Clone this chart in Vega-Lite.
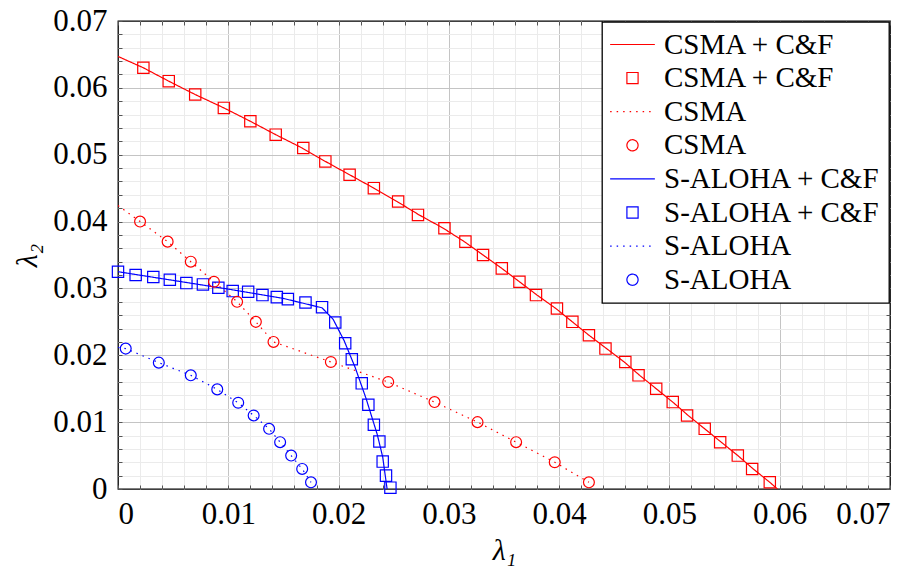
{
  "$schema": "https://vega.github.io/schema/vega-lite/v6.json",
  "width": 772,
  "height": 468,
  "autosize": {"type": "none"},
  "padding": {"left": 118, "top": 21, "right": 31, "bottom": 81},
  "background": "white",
  "config": {
    "font": "Liberation Serif",
    "view": {"stroke": "black", "strokeWidth": 1.3},
    "axis": {
      "labelFont": "Liberation Serif",
      "labelFontSize": 31,
      "labelColor": "black",
      "titleFont": "Liberation Serif",
      "titleFontSize": 30,
      "titleFontWeight": "normal",
      "titleFontStyle": "italic",
      "titleColor": "black",
      "domain": false
    },
    "legend": {
      "orient": "top-right",
      "offset": 1,
      "padding": 8,
      "strokeColor": "black",
      "strokeWidth": 1.3,
      "fillColor": "white",
      "labelFont": "Liberation Serif",
      "labelFontSize": 29,
      "labelColor": "black",
      "labelOffset": 17,
      "symbolOffset": 8,
      "symbolSize": 125,
      "rowPadding": 3.6,
      "symbolStrokeWidth": 1.2,
      "labelLimit": 400
    }
  },
  "datasets": {
    "lines": [
      {"s": "CSMA + C&F|l", "x": 0, "y": 0.0647},
      {"s": "CSMA + C&F|l", "x": 0.0023, "y": 0.063},
      {"s": "CSMA + C&F|l", "x": 0.0046, "y": 0.061},
      {"s": "CSMA + C&F|l", "x": 0.0070, "y": 0.059},
      {"s": "CSMA + C&F|l", "x": 0.0096, "y": 0.057},
      {"s": "CSMA + C&F|l", "x": 0.0120, "y": 0.055},
      {"s": "CSMA + C&F|l", "x": 0.0143, "y": 0.053},
      {"s": "CSMA + C&F|l", "x": 0.0167, "y": 0.051},
      {"s": "CSMA + C&F|l", "x": 0.0188, "y": 0.049},
      {"s": "CSMA + C&F|l", "x": 0.0210, "y": 0.047},
      {"s": "CSMA + C&F|l", "x": 0.0232, "y": 0.045},
      {"s": "CSMA + C&F|l", "x": 0.0253, "y": 0.043},
      {"s": "CSMA + C&F|l", "x": 0.0273, "y": 0.041},
      {"s": "CSMA + C&F|l", "x": 0.0295, "y": 0.039},
      {"s": "CSMA + C&F|l", "x": 0.0314, "y": 0.037},
      {"s": "CSMA + C&F|l", "x": 0.0331, "y": 0.035},
      {"s": "CSMA + C&F|l", "x": 0.0348, "y": 0.033},
      {"s": "CSMA + C&F|l", "x": 0.0364, "y": 0.031},
      {"s": "CSMA + C&F|l", "x": 0.0380, "y": 0.029},
      {"s": "CSMA + C&F|l", "x": 0.0397, "y": 0.027},
      {"s": "CSMA + C&F|l", "x": 0.0412, "y": 0.025},
      {"s": "CSMA + C&F|l", "x": 0.0427, "y": 0.023},
      {"s": "CSMA + C&F|l", "x": 0.0443, "y": 0.021},
      {"s": "CSMA + C&F|l", "x": 0.0459, "y": 0.019},
      {"s": "CSMA + C&F|l", "x": 0.0473, "y": 0.017},
      {"s": "CSMA + C&F|l", "x": 0.0488, "y": 0.015},
      {"s": "CSMA + C&F|l", "x": 0.0503, "y": 0.013},
      {"s": "CSMA + C&F|l", "x": 0.0517, "y": 0.011},
      {"s": "CSMA + C&F|l", "x": 0.0532, "y": 0.009},
      {"s": "CSMA + C&F|l", "x": 0.0547, "y": 0.007},
      {"s": "CSMA + C&F|l", "x": 0.0562, "y": 0.005},
      {"s": "CSMA + C&F|l", "x": 0.0576, "y": 0.003},
      {"s": "CSMA + C&F|l", "x": 0.0591, "y": 0.001},
      {"s": "CSMA + C&F|l", "x": 0.0598, "y": 0},
      {"s": "CSMA|l", "x": 0, "y": 0.0424},
      {"s": "CSMA|l", "x": 0.0020, "y": 0.040},
      {"s": "CSMA|l", "x": 0.0045, "y": 0.037},
      {"s": "CSMA|l", "x": 0.0066, "y": 0.034},
      {"s": "CSMA|l", "x": 0.0087, "y": 0.031},
      {"s": "CSMA|l", "x": 0.0108, "y": 0.028},
      {"s": "CSMA|l", "x": 0.0125, "y": 0.025},
      {"s": "CSMA|l", "x": 0.0141, "y": 0.022},
      {"s": "CSMA|l", "x": 0.0193, "y": 0.019},
      {"s": "CSMA|l", "x": 0.0245, "y": 0.016},
      {"s": "CSMA|l", "x": 0.0287, "y": 0.013},
      {"s": "CSMA|l", "x": 0.0326, "y": 0.010},
      {"s": "CSMA|l", "x": 0.0361, "y": 0.007},
      {"s": "CSMA|l", "x": 0.0396, "y": 0.004},
      {"s": "CSMA|l", "x": 0.0427, "y": 0.001},
      {"s": "S-ALOHA + C&F|l", "x": 0, "y": 0.0325},
      {"s": "S-ALOHA + C&F|l", "x": 0.005, "y": 0.0312},
      {"s": "S-ALOHA + C&F|l", "x": 0.010, "y": 0.0299},
      {"s": "S-ALOHA + C&F|l", "x": 0.015, "y": 0.0285},
      {"s": "S-ALOHA + C&F|l", "x": 0.0185, "y": 0.0271},
      {"s": "S-ALOHA + C&F|l", "x": 0.0195, "y": 0.0254},
      {"s": "S-ALOHA + C&F|l", "x": 0.0205, "y": 0.0222},
      {"s": "S-ALOHA + C&F|l", "x": 0.0215, "y": 0.0182},
      {"s": "S-ALOHA + C&F|l", "x": 0.0225, "y": 0.0135},
      {"s": "S-ALOHA + C&F|l", "x": 0.0235, "y": 0.0082},
      {"s": "S-ALOHA + C&F|l", "x": 0.0240, "y": 0.0048},
      {"s": "S-ALOHA + C&F|l", "x": 0.0244, "y": 0},
      {"s": "S-ALOHA|l", "x": 0, "y": 0.0212},
      {"s": "S-ALOHA|l", "x": 0.0007, "y": 0.0210},
      {"s": "S-ALOHA|l", "x": 0.0037, "y": 0.0189},
      {"s": "S-ALOHA|l", "x": 0.0066, "y": 0.0170},
      {"s": "S-ALOHA|l", "x": 0.0090, "y": 0.0149},
      {"s": "S-ALOHA|l", "x": 0.0109, "y": 0.0129},
      {"s": "S-ALOHA|l", "x": 0.0123, "y": 0.0110},
      {"s": "S-ALOHA|l", "x": 0.0137, "y": 0.0090},
      {"s": "S-ALOHA|l", "x": 0.0147, "y": 0.0070},
      {"s": "S-ALOHA|l", "x": 0.0157, "y": 0.0050},
      {"s": "S-ALOHA|l", "x": 0.0167, "y": 0.0030},
      {"s": "S-ALOHA|l", "x": 0.0175, "y": 0.0010}
    ],
    "squares": [
      {"s": "CSMA + C&F|m", "x": 0.0023, "y": 0.063},
      {"s": "CSMA + C&F|m", "x": 0.0046, "y": 0.061},
      {"s": "CSMA + C&F|m", "x": 0.0070, "y": 0.059},
      {"s": "CSMA + C&F|m", "x": 0.0096, "y": 0.057},
      {"s": "CSMA + C&F|m", "x": 0.0120, "y": 0.055},
      {"s": "CSMA + C&F|m", "x": 0.0143, "y": 0.053},
      {"s": "CSMA + C&F|m", "x": 0.0168, "y": 0.051},
      {"s": "CSMA + C&F|m", "x": 0.0188, "y": 0.049},
      {"s": "CSMA + C&F|m", "x": 0.0210, "y": 0.047},
      {"s": "CSMA + C&F|m", "x": 0.0232, "y": 0.045},
      {"s": "CSMA + C&F|m", "x": 0.0254, "y": 0.043},
      {"s": "CSMA + C&F|m", "x": 0.0272, "y": 0.041},
      {"s": "CSMA + C&F|m", "x": 0.0296, "y": 0.039},
      {"s": "CSMA + C&F|m", "x": 0.0315, "y": 0.037},
      {"s": "CSMA + C&F|m", "x": 0.0331, "y": 0.035},
      {"s": "CSMA + C&F|m", "x": 0.0348, "y": 0.033},
      {"s": "CSMA + C&F|m", "x": 0.0364, "y": 0.031},
      {"s": "CSMA + C&F|m", "x": 0.0379, "y": 0.029},
      {"s": "CSMA + C&F|m", "x": 0.0398, "y": 0.027},
      {"s": "CSMA + C&F|m", "x": 0.0412, "y": 0.025},
      {"s": "CSMA + C&F|m", "x": 0.0427, "y": 0.023},
      {"s": "CSMA + C&F|m", "x": 0.0442, "y": 0.021},
      {"s": "CSMA + C&F|m", "x": 0.0460, "y": 0.019},
      {"s": "CSMA + C&F|m", "x": 0.0472, "y": 0.017},
      {"s": "CSMA + C&F|m", "x": 0.0488, "y": 0.015},
      {"s": "CSMA + C&F|m", "x": 0.0503, "y": 0.013},
      {"s": "CSMA + C&F|m", "x": 0.0516, "y": 0.011},
      {"s": "CSMA + C&F|m", "x": 0.0532, "y": 0.009},
      {"s": "CSMA + C&F|m", "x": 0.0546, "y": 0.007},
      {"s": "CSMA + C&F|m", "x": 0.0562, "y": 0.005},
      {"s": "CSMA + C&F|m", "x": 0.0575, "y": 0.003},
      {"s": "CSMA + C&F|m", "x": 0.0591, "y": 0.001},
      {"s": "S-ALOHA + C&F|m", "x": 0.0000, "y": 0.0325},
      {"s": "S-ALOHA + C&F|m", "x": 0.0016, "y": 0.0320},
      {"s": "S-ALOHA + C&F|m", "x": 0.0032, "y": 0.0317},
      {"s": "S-ALOHA + C&F|m", "x": 0.0047, "y": 0.0313},
      {"s": "S-ALOHA + C&F|m", "x": 0.0062, "y": 0.0308},
      {"s": "S-ALOHA + C&F|m", "x": 0.0077, "y": 0.0306},
      {"s": "S-ALOHA + C&F|m", "x": 0.0091, "y": 0.0301},
      {"s": "S-ALOHA + C&F|m", "x": 0.0104, "y": 0.0296},
      {"s": "S-ALOHA + C&F|m", "x": 0.0118, "y": 0.0295},
      {"s": "S-ALOHA + C&F|m", "x": 0.0131, "y": 0.0290},
      {"s": "S-ALOHA + C&F|m", "x": 0.0144, "y": 0.0287},
      {"s": "S-ALOHA + C&F|m", "x": 0.0154, "y": 0.0284},
      {"s": "S-ALOHA + C&F|m", "x": 0.0170, "y": 0.0279},
      {"s": "S-ALOHA + C&F|m", "x": 0.0185, "y": 0.0272},
      {"s": "S-ALOHA + C&F|m", "x": 0.0197, "y": 0.0249},
      {"s": "S-ALOHA + C&F|m", "x": 0.0206, "y": 0.0218},
      {"s": "S-ALOHA + C&F|m", "x": 0.0212, "y": 0.0194},
      {"s": "S-ALOHA + C&F|m", "x": 0.0221, "y": 0.0158},
      {"s": "S-ALOHA + C&F|m", "x": 0.0227, "y": 0.0126},
      {"s": "S-ALOHA + C&F|m", "x": 0.0232, "y": 0.0096},
      {"s": "S-ALOHA + C&F|m", "x": 0.0237, "y": 0.0071},
      {"s": "S-ALOHA + C&F|m", "x": 0.0240, "y": 0.0041},
      {"s": "S-ALOHA + C&F|m", "x": 0.0243, "y": 0.0020},
      {"s": "S-ALOHA + C&F|m", "x": 0.0247, "y": 0.0002}
    ],
    "circles": [
      {"s": "CSMA|m", "x": 0.0020, "y": 0.040},
      {"s": "CSMA|m", "x": 0.0045, "y": 0.037},
      {"s": "CSMA|m", "x": 0.0066, "y": 0.034},
      {"s": "CSMA|m", "x": 0.0087, "y": 0.031},
      {"s": "CSMA|m", "x": 0.0108, "y": 0.028},
      {"s": "CSMA|m", "x": 0.0125, "y": 0.025},
      {"s": "CSMA|m", "x": 0.0141, "y": 0.022},
      {"s": "CSMA|m", "x": 0.0193, "y": 0.019},
      {"s": "CSMA|m", "x": 0.0245, "y": 0.016},
      {"s": "CSMA|m", "x": 0.0287, "y": 0.013},
      {"s": "CSMA|m", "x": 0.0326, "y": 0.010},
      {"s": "CSMA|m", "x": 0.0361, "y": 0.007},
      {"s": "CSMA|m", "x": 0.0396, "y": 0.004},
      {"s": "CSMA|m", "x": 0.0427, "y": 0.001},
      {"s": "S-ALOHA|m", "x": 0.0007, "y": 0.0210},
      {"s": "S-ALOHA|m", "x": 0.0037, "y": 0.0189},
      {"s": "S-ALOHA|m", "x": 0.0066, "y": 0.0170},
      {"s": "S-ALOHA|m", "x": 0.0090, "y": 0.0149},
      {"s": "S-ALOHA|m", "x": 0.0109, "y": 0.0129},
      {"s": "S-ALOHA|m", "x": 0.0123, "y": 0.0110},
      {"s": "S-ALOHA|m", "x": 0.0137, "y": 0.0090},
      {"s": "S-ALOHA|m", "x": 0.0147, "y": 0.0070},
      {"s": "S-ALOHA|m", "x": 0.0157, "y": 0.0050},
      {"s": "S-ALOHA|m", "x": 0.0167, "y": 0.0030},
      {"s": "S-ALOHA|m", "x": 0.0175, "y": 0.0010}
    ]
  },
  "layer": [
    {
      "data": {"name": "lines"},
      "mark": {"type": "line", "strokeWidth": 1.2, "clip": true},
      "encoding": {
        "x": {
          "field": "x", "type": "quantitative",
          "scale": {"domain": [0, 0.07], "nice": false, "zero": false},
          "axis": {"orient": "top", "title": null, "labels": false, "grid": false, "ticks": true, "tickSize": -4, "tickColor": "#555555", "tickWidth": 1,
            "values": [0,0.002,0.004,0.006,0.008,0.01,0.012,0.014,0.016,0.018,0.02,0.022,0.024,0.026,0.028,0.03,0.032,0.034,0.036,0.038,0.04,0.042,0.044,0.046,0.048,0.05,0.052,0.054,0.056,0.058,0.06,0.062,0.064,0.066,0.068,0.07]}
        },
        "y": {
          "field": "y", "type": "quantitative",
          "scale": {"domain": [0, 0.07], "nice": false, "zero": false},
          "axis": {"orient": "right", "title": null, "labels": false, "grid": false, "ticks": true, "tickSize": -4, "tickColor": "#555555", "tickWidth": 1,
            "values": [0,0.002,0.004,0.006,0.008,0.01,0.012,0.014,0.016,0.018,0.02,0.022,0.024,0.026,0.028,0.03,0.032,0.034,0.036,0.038,0.04,0.042,0.044,0.046,0.048,0.05,0.052,0.054,0.056,0.058,0.06,0.062,0.064,0.066,0.068,0.07]}
        },
        "color": {
          "field": "s", "type": "nominal",
          "scale": {
            "domain": ["CSMA + C&F|l","CSMA + C&F|m","CSMA|l","CSMA|m","S-ALOHA + C&F|l","S-ALOHA + C&F|m","S-ALOHA|l","S-ALOHA|m"],
            "range": ["#ff0000","#ff0000","#ff0000","#ff0000","#0000ff","#0000ff","#0000ff","#0000ff"]
          },
          "legend": {"title": null, "labelExpr": "split(datum.label, '|')[0]"}
        },
        "strokeDash": {
          "field": "s", "type": "nominal",
          "scale": {
            "domain": ["CSMA + C&F|l","CSMA + C&F|m","CSMA|l","CSMA|m","S-ALOHA + C&F|l","S-ALOHA + C&F|m","S-ALOHA|l","S-ALOHA|m"],
            "range": [[1,0],[1,0],[1.5,5],[1,0],[1,0],[1,0],[1.5,5],[1,0]]
          },
          "legend": {"title": null, "labelExpr": "split(datum.label, '|')[0]"}
        }
      }
    },
    {
      "data": {"name": "squares"},
      "mark": {"type": "point", "filled": false, "strokeWidth": 1.2, "opacity": 1, "size": 128},
      "encoding": {
        "x": {
          "field": "x", "type": "quantitative",
          "scale": {"domain": [0, 0.07], "nice": false, "zero": false},
          "axis": {"orient": "bottom", "title": null, "labels": false, "grid": true, "gridColor": "#ebebeb", "gridWidth": 1,
            "gridOpacity": {"condition": {"test": "abs(datum.value * 100 - round(datum.value * 100)) < 0.01", "value": 0}, "value": 1},
            "ticks": true, "tickSize": -4, "tickColor": "#555555", "tickWidth": 1,
            "values": [0,0.002,0.004,0.006,0.008,0.01,0.012,0.014,0.016,0.018,0.02,0.022,0.024,0.026,0.028,0.03,0.032,0.034,0.036,0.038,0.04,0.042,0.044,0.046,0.048,0.05,0.052,0.054,0.056,0.058,0.06,0.062,0.064,0.066,0.068,0.07]}
        },
        "y": {
          "field": "y", "type": "quantitative",
          "scale": {"domain": [0, 0.07], "nice": false, "zero": false},
          "axis": {"orient": "left", "title": null, "labels": false, "grid": true, "gridColor": "#ebebeb", "gridWidth": 1,
            "gridOpacity": {"condition": {"test": "abs(datum.value * 100 - round(datum.value * 100)) < 0.01", "value": 0}, "value": 1},
            "ticks": true, "tickSize": -4, "tickColor": "#555555", "tickWidth": 1,
            "values": [0,0.002,0.004,0.006,0.008,0.01,0.012,0.014,0.016,0.018,0.02,0.022,0.024,0.026,0.028,0.03,0.032,0.034,0.036,0.038,0.04,0.042,0.044,0.046,0.048,0.05,0.052,0.054,0.056,0.058,0.06,0.062,0.064,0.066,0.068,0.07]}
        },
        "color": {
          "field": "s", "type": "nominal",
          "scale": {
            "domain": ["CSMA + C&F|l","CSMA + C&F|m","CSMA|l","CSMA|m","S-ALOHA + C&F|l","S-ALOHA + C&F|m","S-ALOHA|l","S-ALOHA|m"],
            "range": ["#ff0000","#ff0000","#ff0000","#ff0000","#0000ff","#0000ff","#0000ff","#0000ff"]
          },
          "legend": {"title": null, "labelExpr": "split(datum.label, '|')[0]"}
        },
        "shape": {
          "field": "s", "type": "nominal",
          "scale": {
            "domain": ["CSMA + C&F|l","CSMA + C&F|m","CSMA|l","CSMA|m","S-ALOHA + C&F|l","S-ALOHA + C&F|m","S-ALOHA|l","S-ALOHA|m"],
            "range": ["M-4,0L4,0","square","M-4,0L4,0","circle","M-4,0L4,0","square","M-4,0L4,0","circle"]
          },
          "legend": {"title": null, "labelExpr": "split(datum.label, '|')[0]"}
        }
      }
    },
    {
      "data": {"name": "circles"},
      "mark": {"type": "point", "filled": false, "strokeWidth": 1.2, "opacity": 1, "size": 118},
      "encoding": {
        "x": {
          "field": "x", "type": "quantitative",
          "scale": {"domain": [0, 0.07], "nice": false, "zero": false},
          "axis": {"orient": "bottom", "title": "λ₁", "titlePadding": 6, "labels": true, "labelPadding": 10, "format": ".2~f", "grid": true, "gridColor": "#c4c4c4", "gridWidth": 1,
            "gridOpacity": {"condition": {"test": "datum.value < 0.001 || datum.value > 0.069", "value": 0}, "value": 1},
            "ticks": false,
            "values": [0, 0.01, 0.02, 0.03, 0.04, 0.05, 0.06, 0.07]}
        },
        "y": {
          "field": "y", "type": "quantitative",
          "scale": {"domain": [0, 0.07], "nice": false, "zero": false},
          "axis": {"orient": "left", "title": "λ₂", "titlePadding": 10, "labels": true, "labelPadding": 11, "format": ".2~f", "grid": true, "gridColor": "#c4c4c4", "gridWidth": 1,
            "gridOpacity": {"condition": {"test": "datum.value < 0.001 || datum.value > 0.069", "value": 0}, "value": 1},
            "ticks": false,
            "values": [0, 0.01, 0.02, 0.03, 0.04, 0.05, 0.06, 0.07]}
        },
        "color": {
          "field": "s", "type": "nominal",
          "scale": {
            "domain": ["CSMA + C&F|l","CSMA + C&F|m","CSMA|l","CSMA|m","S-ALOHA + C&F|l","S-ALOHA + C&F|m","S-ALOHA|l","S-ALOHA|m"],
            "range": ["#ff0000","#ff0000","#ff0000","#ff0000","#0000ff","#0000ff","#0000ff","#0000ff"]
          },
          "legend": {"title": null, "labelExpr": "split(datum.label, '|')[0]"}
        },
        "shape": {
          "field": "s", "type": "nominal",
          "scale": {
            "domain": ["CSMA + C&F|l","CSMA + C&F|m","CSMA|l","CSMA|m","S-ALOHA + C&F|l","S-ALOHA + C&F|m","S-ALOHA|l","S-ALOHA|m"],
            "range": ["M-4,0L4,0","square","M-4,0L4,0","circle","M-4,0L4,0","square","M-4,0L4,0","circle"]
          },
          "legend": {"title": null, "labelExpr": "split(datum.label, '|')[0]"}
        }
      }
    }
  ],
  "resolve": {"axis": {"x": "independent", "y": "independent"}}
}
